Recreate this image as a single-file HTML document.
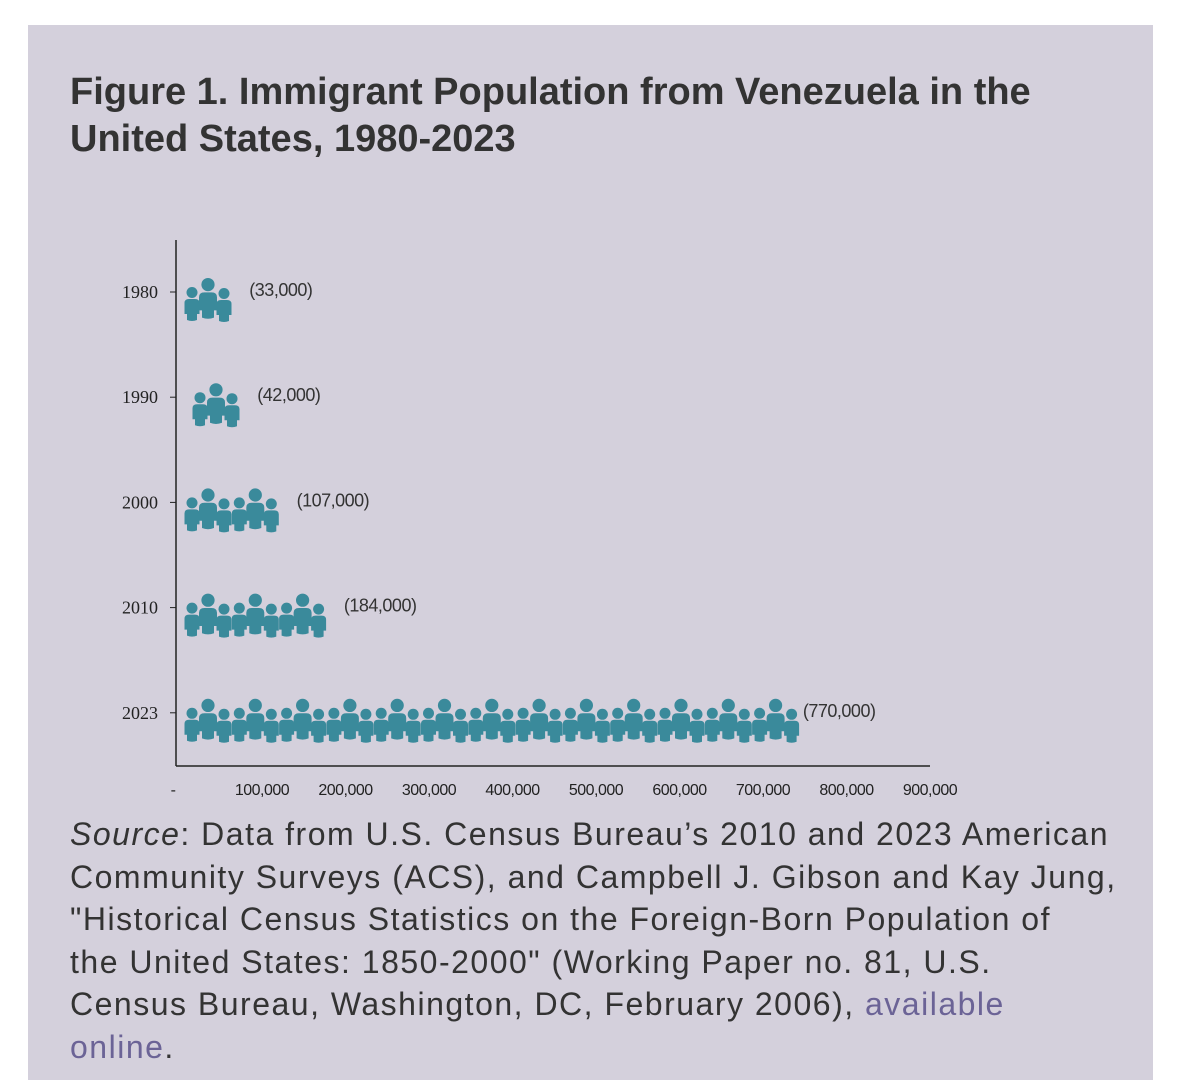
<!DOCTYPE html>
<html><head><meta charset="utf-8"><style>
html,body{margin:0;padding:0;background:#fff;width:1181px;height:1080px;overflow:hidden}
#panel{position:absolute;left:28px;top:25px;width:1125px;height:1055px;background:#d4d0dc}
#title{position:absolute;left:70px;top:69px;margin:0;font:bold 38px/47px "Liberation Sans",sans-serif;color:#333;letter-spacing:0;white-space:nowrap}
#source{position:absolute;left:70px;top:813px;width:1080px;font:32px/42.5px "Liberation Sans",sans-serif;color:#333;letter-spacing:1.5px;white-space:nowrap}
#source a{color:#6b6396;text-decoration:none}
svg{position:absolute;left:0;top:0}
</style></head><body>
<div id="panel"></div>
<h1 id="title">Figure 1. Immigrant Population from Venezuela in the<br>United States, 1980-2023</h1>
<svg id="chart" width="1181" height="1080"></svg>
<div id="source"><i>Source</i>: Data from U.S. Census Bureau’s 2010 and 2023 American<br>Community Surveys (ACS), and Campbell J. Gibson and Kay Jung,<br>"Historical Census Statistics on the Foreign-Born Population of<br>the United States: 1850-2000" (Working Paper no. 81, U.S.<br>Census Bureau, Washington, DC, February 2006), <a href="#">available<br>online</a>.</div>
<script>
const years=["1980","1990","2000","2010","2023"];
const values=[33000,42000,107000,184000,770000];
const valueLabels=["(33,000)","(42,000)","(107,000)","(184,000)","(770,000)"];
const xTicks=[0,100000,200000,300000,400000,500000,600000,700000,800000,900000];
const xTickLabels=["-","100,000","200,000","300,000","400,000","500,000","600,000","700,000","800,000","900,000"];
const perGroup=59000;
const NS="http://www.w3.org/2000/svg";
const svg=document.getElementById('chart');
const x=v=>178.5+v*83.5/100000;
const y=i=>292+i*105.2;
function mk(t,a,p){const e=document.createElementNS(NS,t);for(const k in a)e.setAttribute(k,a[k]);(p||svg).appendChild(e);return e;}
const yAxis=mk('line',{x1:176,y1:240,x2:176,y2:766,stroke:'#222','stroke-width':1.5});


const xAxis=mk('line',{x1:176,y1:766,x2:930,y2:766,stroke:'#222','stroke-width':1.5});


xTicks.forEach((v,i)=>{
  const t=mk('text',{x:i===0?173:x(v),y:795,'text-anchor':'middle','font-family':'Liberation Sans,sans-serif','font-size':16,fill:'#222','letter-spacing':'-0.5'});
  t.textContent=xTickLabels[i];
  
  
});
function person(g,cx,top,s){
  mk('circle',{cx:cx,cy:top+5.5*s,r:5.5*s},g);
  mk('path',{d:`M${cx-7.5*s},${top+27*s} L${cx-7.5*s},${top+16*s} Q${cx-7.5*s},${top+12*s} ${cx-3*s},${top+12*s} L${cx+3*s},${top+12*s} Q${cx+7.5*s},${top+12*s} ${cx+7.5*s},${top+16*s} L${cx+7.5*s},${top+27*s} L${cx+5*s},${top+27*s} L${cx+5*s},${top+33*s} Q${cx},${top+35*s} ${cx-5*s},${top+33*s} L${cx-5*s},${top+27*s} Z`},g);
}
years.forEach((yr,i)=>{
  const cy=y(i);
  const tk=mk('line',{x1:170,y1:cy,x2:176,y2:cy,stroke:'#222','stroke-width':1});
  
  
  const yl=mk('text',{x:158,y:cy+6,'text-anchor':'end','font-family':'Liberation Serif,serif','font-size':18,fill:'#222'});
  yl.textContent=yr;
  
  
  const n=Math.max(1,Math.round(values[i]/perGroup));
  const g=mk('g',{fill:'#3a8a9b'});
  
  
  const startX=i===1?192:184;
  for(let k=0;k<n;k++){
    const gx=startX+k*47.3;
    person(g,gx+8,cy-5,1.0);
    person(g,gx+40,cy-4,1.0);
    person(g,gx+24,cy-14,1.2);
  }
  const end=startX+n*47.3;
  const lbl=mk('text',{x:end+(i===4?4:18),y:cy+4,'font-family':'Liberation Sans,sans-serif','font-size':18,fill:'#333','letter-spacing':'-0.5'});
  lbl.textContent=valueLabels[i];
  
  
});
</script>
</body></html>
